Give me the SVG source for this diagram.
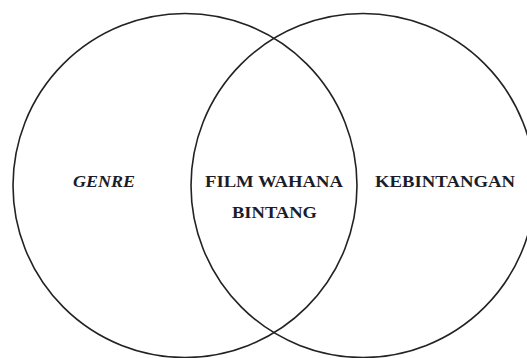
<svg xmlns="http://www.w3.org/2000/svg" width="527" height="358" viewBox="0 0 527 358">
  <style>
    .set { fill: none; stroke: #222; stroke-width: 1.6; }
    .lbl { font-family: "Liberation Serif", "Times New Roman", serif; font-weight: bold; font-size: 17px; fill: #1c1c28; }
    .it { font-style: italic; }
  </style>
  <rect x="0" y="0" width="527" height="358" fill="#ffffff"/>
  <g id="genre">
    <circle class="set" cx="185" cy="185.5" r="172"/>
    <text class="lbl it" x="73" y="187.3" textLength="62" lengthAdjust="spacingAndGlyphs">GENRE</text>
  </g>
  <g id="kebintangan">
    <circle class="set" cx="363" cy="185.5" r="172"/>
    <text class="lbl" x="375" y="187.3" textLength="140" lengthAdjust="spacingAndGlyphs">KEBINTANGAN</text>
  </g>
  <g id="film-wahana-bintang">
    <text class="lbl" x="205" y="187.3" textLength="138" lengthAdjust="spacingAndGlyphs">FILM WAHANA</text>
    <text class="lbl" x="232" y="218.3" textLength="85" lengthAdjust="spacingAndGlyphs">BINTANG</text>
  </g>
</svg>
